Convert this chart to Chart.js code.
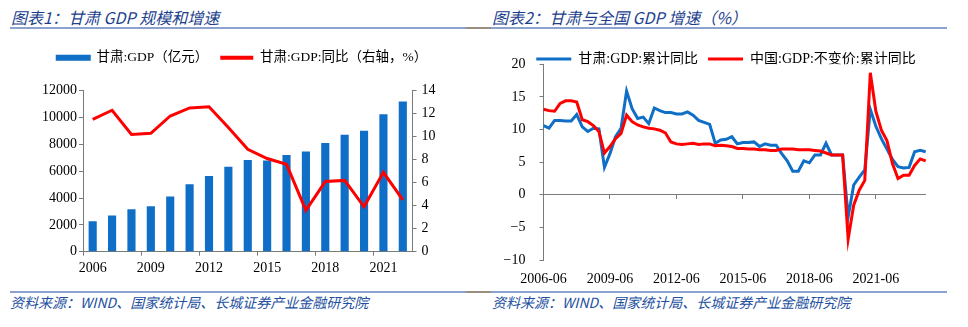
<!DOCTYPE html>
<html>
<head>
<meta charset="utf-8">
<script src="https://cdn.jsdelivr.net/npm/chart.js@4.4.0/dist/chart.umd.min.js"></script>
<style>
  html, body { margin: 0; padding: 0; background: #fff; }
  body { width: 968px; height: 327px; position: relative; overflow: hidden; font-family: "Noto Sans CJK SC", sans-serif; }
  .title { position: absolute; top: 7px; font-size: 16px; line-height: 20px; font-style: italic; color: #1d3f8e; white-space: nowrap; }
  .rule { position: absolute; height: 2px; background: #8ba2d0; }
  .rule.dark { background: #9a8e7e; }
  .source { position: absolute; top: 293px; font-size: 14px; line-height: 18px; font-style: italic; color: #2350a0; white-space: nowrap; }
  canvas { position: absolute; }
</style>
</head>
<body>
<div class="title" style="left:11px">图表1：甘肃 GDP 规模和增速</div>
<div class="title" style="left:492px">图表2：甘肃与全国 GDP 增速（%）</div>
<div class="rule" style="left:10px;top:27px;width:456px"></div>
<div class="rule dark" style="left:466px;top:27px;width:25px"></div>
<div class="rule" style="left:491px;top:27px;width:456px"></div>

<canvas id="gdpChart" width="484" height="254" style="left:0;top:36px"></canvas>
<canvas id="growthChart" width="484" height="254" style="left:484px;top:36px"></canvas>

<div class="rule" style="left:10px;top:291px;width:456px"></div>
<div class="rule dark" style="left:466px;top:291px;width:25px"></div>
<div class="rule" style="left:491px;top:291px;width:456px"></div>
<div class="source" style="left:10px">资料来源：WIND、国家统计局、长城证券产业金融研究院</div>
<div class="source" style="left:492px">资料来源：WIND、国家统计局、长城证券产业金融研究院</div>

<script>
// 图表1 data
const years = ['2006', '2007', '2008', '2009', '2010', '2011', '2012', '2013', '2014',
               '2015', '2016', '2017', '2018', '2019', '2020', '2021', '2022'];
const gansuGdp = [2277, 2703, 3166, 3387, 4120, 5020, 5650, 6330, 6836,
                  6790, 7200, 7460, 8104, 8718, 9017, 10243, 11201];
const gansuGdpYoy = [11.5, 12.3, 10.2, 10.3, 11.8, 12.5, 12.6, 10.8, 8.9,
                     8.1, 7.6, 3.6, 6.1, 6.2, 3.9, 6.9, 4.5];
const yearTicks = ['2006', '2009', '2012', '2015', '2018', '2021'];

// 图表2 data (quarterly, cumulative yoy)
const quarters = [
  '2006-06', '2006-09', '2006-12',
  '2007-03', '2007-06', '2007-09', '2007-12',
  '2008-03', '2008-06', '2008-09', '2008-12',
  '2009-03', '2009-06', '2009-09', '2009-12',
  '2010-03', '2010-06', '2010-09', '2010-12',
  '2011-03', '2011-06', '2011-09', '2011-12',
  '2012-03', '2012-06', '2012-09', '2012-12',
  '2013-03', '2013-06', '2013-09', '2013-12',
  '2014-03', '2014-06', '2014-09', '2014-12',
  '2015-03', '2015-06', '2015-09', '2015-12',
  '2016-03', '2016-06', '2016-09', '2016-12',
  '2017-03', '2017-06', '2017-09', '2017-12',
  '2018-03', '2018-06', '2018-09', '2018-12',
  '2019-03', '2019-06', '2019-09', '2019-12',
  '2020-03', '2020-06', '2020-09', '2020-12',
  '2021-03', '2021-06', '2021-09', '2021-12',
  '2022-03', '2022-06', '2022-09', '2022-12',
  '2023-03', '2023-06', '2023-09'
];
const gansuCumYoy = [
  10.6, 10.2, 11.4,
  11.4, 11.3, 11.3, 12.3,
  10.4, 9.7, 10.2, 10.1,
  4.2, 6.3, 8.9, 10.2,
  15.9, 13.2, 11.7, 11.9,
  10.9, 13.3, 12.9, 12.6,
  12.6, 12.4, 12.4, 12.7,
  12.2, 11.4, 11.1, 10.8,
  7.9, 8.4, 8.5, 8.9,
  7.8, 8.0, 8.0, 8.1,
  7.4, 7.8, 7.6, 7.6,
  6.3, 5.2, 3.6, 3.6,
  5.2, 4.9, 6.1, 6.1,
  7.9, 6.1, 6.1, 6.1,
  -3.4, 1.5, 2.7, 3.8,
  13.1, 10.5, 8.6, 7.0,
  5.4, 4.3, 4.1, 4.2,
  6.6, 6.8, 6.6
];
const chinaCumYoy = [
  13.1, 12.9, 12.8,
  14.0, 14.4, 14.4, 14.2,
  11.5, 11.2, 10.6, 9.7,
  6.4, 7.4, 8.6, 9.4,
  12.2, 11.2, 10.7, 10.4,
  10.2, 10.1, 9.9, 9.5,
  8.1, 7.8, 7.7, 7.8,
  7.9, 7.7, 7.8, 7.8,
  7.5, 7.6, 7.5, 7.4,
  7.1, 7.1, 7.0, 7.0,
  6.9, 6.9, 6.8, 6.8,
  7.0, 7.0, 7.0, 6.9,
  6.9, 6.9, 6.8, 6.7,
  6.4, 6.1, 6.1, 6.1,
  -6.8, -1.6, 0.7, 2.2,
  18.7, 12.8, 9.9, 8.3,
  4.8, 2.5, 3.0, 3.0,
  4.5, 5.5, 5.2
];
const quarterTicks = ['2006-06', '2009-06', '2012-06', '2015-06', '2018-06', '2021-06'];

const axisColor = '#7a7a7a';
const blue = '#0f6ec6';
const red = '#ff0000';

Chart.defaults.font.family = "'Liberation Serif', 'Noto Sans CJK SC', serif";
Chart.defaults.font.size = 14;
Chart.defaults.color = '#000';

// force the legend box to a fixed height so the plot area lands where it should
function legendHeight(h) {
  return {
    id: 'legendHeight',
    beforeInit(chart) {
      const origFit = chart.legend.fit;
      chart.legend.fit = function fit() {
        origFit.bind(chart.legend)();
        this.height = h;
      };
    }
  };
}

// keep legend in dataset order, draw lines as flat bars
function legendLabels(chart) {
  const items = Chart.defaults.plugins.legend.labels.generateLabels(chart);
  items.sort((a, b) => a.datasetIndex - b.datasetIndex);
  items.forEach(item => {
    const ds = chart.data.datasets[item.datasetIndex];
    if (ds.type === 'line' || chart.config.type === 'line') {
      item.fillStyle = ds.borderColor;
      item.lineWidth = 0;
    } else {
      item.fillStyle = ds.backgroundColor;
      item.strokeStyle = ds.backgroundColor;
      item.lineWidth = 2;
    }
  });
  return items;
}

// 图表1: bars + line on right axis
new Chart(document.getElementById('gdpChart'), {
  type: 'bar',
  data: {
    labels: years,
    datasets: [
      {
        type: 'bar',
        label: '甘肃:GDP（亿元）',
        data: gansuGdp,
        backgroundColor: blue,
        barPercentage: 0.42,
        categoryPercentage: 1,
        yAxisID: 'y',
        order: 1
      },
      {
        type: 'line',
        label: '甘肃:GDP:同比（右轴，%）',
        data: gansuGdpYoy,
        borderColor: red,
        backgroundColor: red,
        borderWidth: 3,
        pointRadius: 0,
        tension: 0,
        yAxisID: 'y1',
        order: 0
      }
    ]
  },
  options: {
    responsive: false,
    animation: false,
    layout: { padding: { top: 3, left: 0, right: 0, bottom: 0 } },
    plugins: {
      tooltip: { enabled: false },
      legend: {
        position: 'top',
        labels: {
          boxWidth: 33,
          boxHeight: 4,
          padding: 12,
          font: { size: 13.5 },
          generateLabels: legendLabels
        }
      }
    },
    scales: {
      x: {
        offset: true,
        grid: {
          offset: true,
          drawOnChartArea: false,
          tickLength: 4,
          color: ctx => (ctx.index % 3 === 0 ? axisColor : 'rgba(0,0,0,0)')
        },
        border: { color: axisColor },
        ticks: {
          autoSkip: false,
          maxRotation: 0,
          padding: 4,
          callback: function (value) {
            const lab = this.getLabelForValue(value);
            return yearTicks.includes(lab) ? lab : '';
          }
        },
        afterFit: s => { s.height = 38.3; }
      },
      y: {
        position: 'left',
        min: 0,
        max: 12000,
        ticks: { stepSize: 2000, padding: 2, callback: v => String(v) },
        grid: { drawOnChartArea: false, tickLength: 4, color: axisColor },
        border: { color: axisColor },
        afterFit: s => { s.width = 83; }
      },
      y1: {
        position: 'right',
        min: 0,
        max: 14,
        ticks: { stepSize: 2, padding: 5 },
        grid: { drawOnChartArea: false, tickLength: 4, color: axisColor },
        border: { color: axisColor },
        afterFit: s => { s.width = 71.5; }
      }
    }
  },
  plugins: [legendHeight(51.7)]
});

// 图表2: two lines, zero line carries the x ticks, labels at the bottom
new Chart(document.getElementById('growthChart'), {
  type: 'line',
  data: {
    labels: quarters,
    datasets: [
      {
        label: '甘肃:GDP:累计同比',
        data: gansuCumYoy,
        borderColor: blue,
        backgroundColor: blue,
        borderWidth: 3,
        pointRadius: 0,
        tension: 0,
        order: 1
      },
      {
        label: '中国:GDP:不变价:累计同比',
        data: chinaCumYoy,
        borderColor: red,
        backgroundColor: red,
        borderWidth: 3,
        pointRadius: 0,
        tension: 0,
        order: 0
      }
    ]
  },
  options: {
    responsive: false,
    animation: false,
    layout: { padding: { top: 6, left: 0, right: 0, bottom: 0 } },
    plugins: {
      tooltip: { enabled: false },
      legend: {
        position: 'top',
        labels: {
          boxWidth: 35,
          boxHeight: 3,
          padding: 10,
          font: { size: 14 },
          generateLabels: legendLabels
        }
      }
    },
    scales: {
      x: {
        type: 'category',
        position: { y: 0 },
        offset: false,
        grid: {
          drawOnChartArea: false,
          tickLength: 4,
          color: ctx => (quarterTicks.includes(quarters[ctx.index]) ? axisColor : 'rgba(0,0,0,0)')
        },
        border: { color: axisColor },
        ticks: { display: false, autoSkip: false }
      },
      x2: {
        type: 'category',
        position: 'bottom',
        offset: false,
        grid: { display: false, drawTicks: false },
        border: { display: false },
        ticks: {
          autoSkip: false,
          maxRotation: 0,
          minRotation: 0,
          padding: 11,
          callback: function (value) {
            const lab = this.getLabelForValue(value);
            return quarterTicks.includes(lab) ? lab : '';
          }
        },
        afterFit: s => { s.height = 30; }
      },
      y: {
        min: -10,
        max: 20,
        ticks: {
          stepSize: 5,
          padding: 14,
          callback: v => String(v).replace('-', '\u2212')
        },
        grid: { drawOnChartArea: false, tickLength: 4, color: axisColor },
        border: { color: axisColor },
        afterFit: s => { s.width = 59.5; }
      },
      // empty right-hand spacer so the plot ends where the reference does
      yPad: {
        position: 'right',
        grid: { display: false, drawTicks: false },
        border: { display: false },
        ticks: { display: false },
        afterFit: s => { s.width = 42.3; }
      }
    }
  },
  plugins: [legendHeight(22.3)]
});
</script>
</body>
</html>
